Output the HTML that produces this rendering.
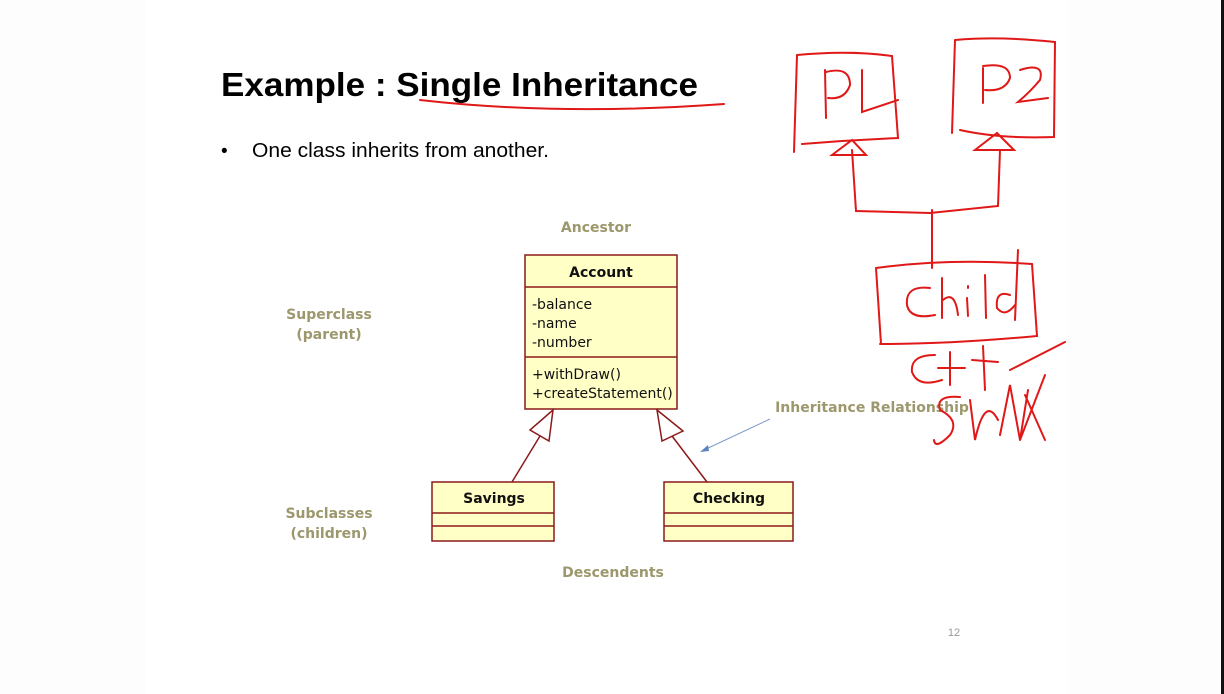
<!DOCTYPE html>
<html><head><style>
html,body{margin:0;padding:0;background:#fff;}
svg{display:block;}
</style></head><body>
<svg width="1224" height="694" viewBox="0 0 1224 694" xmlns="http://www.w3.org/2000/svg">
<rect width="1224" height="694" fill="#fdfdfd"/>
<rect x="146" y="0" width="922" height="694" fill="#ffffff"/>
<rect x="1221" y="0" width="3" height="694" fill="#111"/>
<text x="221" y="96" font-family="Liberation Sans, sans-serif" font-weight="bold" font-size="33" fill="#000" textLength="477" lengthAdjust="spacingAndGlyphs">Example : Single Inheritance</text>
<text x="221" y="157" font-family="Liberation Sans, sans-serif" font-size="19" fill="#000">•</text>
<text x="252" y="157" font-family="Liberation Sans, sans-serif" font-size="20" fill="#000" textLength="297" lengthAdjust="spacingAndGlyphs">One class inherits from another.</text>
<g font-family="DejaVu Sans, sans-serif" font-size="14" fill="#8b8653" font-weight="bold" text-anchor="middle" opacity="0.85">
<text x="596" y="232">Ancestor</text>
<text x="329" y="319">Superclass</text>
<text x="329" y="339">(parent)</text>
<text x="329" y="518">Subclasses</text>
<text x="329" y="538">(children)</text>
<text x="613" y="577">Descendents</text>
<text x="872" y="412">Inheritance  Relationship</text>
</g>
<g stroke="#8b1a1a" stroke-width="1.5" fill="#ffffc6">
<rect x="525" y="255" width="152" height="154"/>
<line x1="525" y1="287" x2="677" y2="287"/>
<line x1="525" y1="357" x2="677" y2="357"/>
<rect x="432" y="482" width="122" height="59"/>
<line x1="432" y1="513" x2="554" y2="513"/>
<line x1="432" y1="526" x2="554" y2="526"/>
<rect x="664" y="482" width="129" height="59"/>
<line x1="664" y1="513" x2="793" y2="513"/>
<line x1="664" y1="526" x2="793" y2="526"/>
<polygon points="553,410 530,430 549,441" fill="#fff"/>
<line x1="540" y1="436" x2="512" y2="482"/>
<polygon points="657,410 662,441 683,431" fill="#fff"/>
<line x1="672" y1="436" x2="707" y2="482"/>
</g>
<g font-family="DejaVu Sans, sans-serif" font-size="14" fill="#111">
<text x="601" y="277" font-weight="bold" text-anchor="middle">Account</text>
<text x="532" y="309">-balance</text>
<text x="532" y="328">-name</text>
<text x="532" y="347">-number</text>
<text x="532" y="379">+withDraw()</text>
<text x="532" y="398">+createStatement()</text>
<text x="494" y="503" font-weight="bold" text-anchor="middle">Savings</text>
<text x="729" y="503" font-weight="bold" text-anchor="middle">Checking</text>
</g>
<line x1="770" y1="419" x2="704" y2="450" stroke="#7a9cc8" stroke-width="1"/>
<polygon points="700,452 708,445 709,451" fill="#5b84c0"/>
<text x="954" y="636" font-family="Liberation Sans, sans-serif" font-size="11" fill="#999" text-anchor="middle">12</text>
<g stroke="#e01818" stroke-width="2" fill="none" stroke-linecap="round">
<path d="M420,100 Q560,116 724,104"/>
<path d="M797,55 L794,152 M797,55 Q850,50 892,56 L898,138 Q850,140 802,144"/>
<path d="M825,70 L826,118 M826,72 Q850,66 850,85 Q845,100 828,98 M862,70 L862,112 L898,100"/>
<path d="M955,40 L952,133 M955,40 Q1000,36 1055,42 L1054,137 Q1000,139 960,130"/>
<path d="M983,68 L983,103 M983,66 Q1010,62 1010,78 Q1005,92 985,90 M1020,70 Q1045,62 1040,80 Q1030,92 1018,102 L1048,98"/>
<path d="M832,155 L852,140 L866,155 Z M852,150 L856,211 L930,213 L998,206 L1000,150 M975,150 L997,133 L1014,150 Z"/>
<path d="M932,210 L932,268"/>
<path d="M876,268 L881,344 M876,268 Q950,258 1032,264 L1037,336 Q950,344 880,344"/>
<path d="M930,288 Q905,285 907,305 Q910,320 935,315 M942,278 L942,318 M943,300 Q955,290 958,315 M967,298 L968,316 M968,286 L968,288 M985,275 L986,318 M1010,295 Q995,290 997,308 Q1005,318 1015,305 M1018,250 L1015,320"/>
<path d="M935,355 Q910,355 912,372 Q918,388 942,380 M950,352 L950,385 M938,368 L965,368 M983,346 L985,390 M972,360 L998,362"/>
<path d="M960,397 Q935,395 940,410 Q960,420 950,435 Q935,450 934,440 M970,400 L975,440 Q985,395 998,420 M1000,435 L1010,385 L1020,440 L1028,390 M1025,395 L1045,440 M1045,375 L1020,440 M1010,370 L1065,342"/>
</g>
</svg>
</body></html>
